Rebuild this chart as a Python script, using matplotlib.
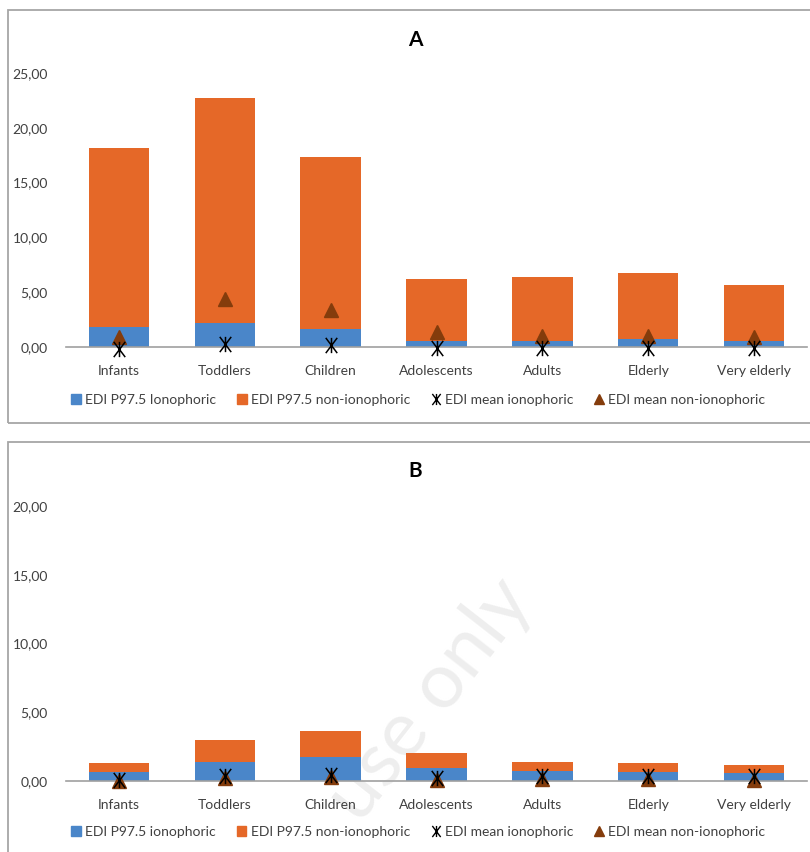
import matplotlib
matplotlib.use("Agg")
import matplotlib.pyplot as plt
import numpy as np
from matplotlib.patches import Rectangle, Patch
from matplotlib.lines import Line2D
from matplotlib.path import Path
from matplotlib.ticker import FuncFormatter

plt.rcParams['font.family'] = ['Lato', 'DejaVu Sans']

groups = ["Infants", "Toddlers", "Children", "Adolescents", "Adults", "Elderly", "Very elderly"]

# panel A
a_p975_iono = [1.80, 2.16, 1.67, 0.52, 0.55, 0.70, 0.55]
a_p975_total = [18.15, 22.75, 17.35, 6.20, 6.40, 6.75, 5.65]
a_mean_iono = [-0.15, 0.30, 0.15, -0.05, -0.10, -0.05, -0.05]
a_mean_non = [0.90, 4.40, 3.40, 1.40, 1.00, 1.00, 0.90]

# panel B
b_p975_iono = [0.63, 1.38, 1.70, 0.95, 0.71, 0.63, 0.54]
b_p975_total = [1.31, 2.96, 3.62, 1.99, 1.38, 1.31, 1.12]
b_mean_iono = [0.02, 0.31, 0.44, 0.22, 0.37, 0.32, 0.37]
b_mean_non = [0.00, 0.22, 0.26, 0.08, 0.10, 0.10, 0.08]

blue = "#4A86C9"
orange = "#E56828"
brown = "#843C0C"
txt = "#404040"

# excel-like "star" marker: X with a vertical bar through it
star = Path([(-0.75, -1), (0.75, 1), (-0.75, 1), (0.75, -1), (0, -1), (0, 1)],
            [Path.MOVETO, Path.LINETO] * 3)

W, H = 810, 852
fig = plt.figure(figsize=(W / 100, H / 100), dpi=100)


def px(x0, y0, x1, y1):
    # pixel box (top-left origin) -> figure fraction rect
    return [x0 / W, 1 - y1 / H, (x1 - x0) / W, (y1 - y0) / H]


def panel(rect, title, title_y, iono, total, m_iono, m_non, ymax, leg_y, lab0):
    ax = fig.add_axes(rect)
    ax.patch.set_alpha(0)
    x = np.arange(len(groups))
    non = np.array(total) - np.array(iono)
    ax.bar(x, iono, width=0.57, color=blue, zorder=2)
    ax.bar(x, non, bottom=iono, width=0.57, color=orange, zorder=2)
    ax.plot(x, m_non, linestyle="none", marker="^", markersize=10,
            color=brown, zorder=4, clip_on=False)
    ax.plot(x, m_iono, linestyle="none", marker=star, markersize=11,
            markeredgewidth=1.1, color="black", markerfacecolor="none",
            zorder=5, clip_on=False)
    ax.set_xlim(-0.5, len(groups) - 0.5)
    ax.set_ylim(0, ymax)
    ax.set_yticks(np.arange(0, ymax + 0.1, 5))
    ax.yaxis.set_major_formatter(FuncFormatter(lambda v, p: f"{v:.2f}".replace(".", ",")))
    ax.set_xticks(x)
    ax.set_xticklabels(groups)
    ax.tick_params(axis="both", length=0, labelsize=10, labelcolor=txt)
    ax.tick_params(axis="x", pad=13)
    ax.tick_params(axis="y", pad=13)
    for s in ["top", "right", "left"]:
        ax.spines[s].set_visible(False)
    ax.spines["bottom"].set_color("#A0A0A0")
    ax.spines["bottom"].set_linewidth(1.2)
    ax.spines["bottom"].set_zorder(3)
    fig.text(415 / W, 1 - title_y / H, title, ha="center", va="center",
             fontsize=15, fontweight="bold", color="black")
    handles = [Patch(color=blue), Patch(color=orange),
               Line2D([], [], linestyle="none", marker=star, markersize=8,
                      markeredgewidth=1.0, color="black", markerfacecolor="none"),
               Line2D([], [], linestyle="none", marker="^", markersize=7, color=brown)]
    labels = [lab0, "EDI P97.5 non-ionophoric",
              "EDI mean ionophoric", "EDI mean non-ionophoric"]
    fig.legend(handles, labels, loc="center", bbox_to_anchor=(418 / W, 1 - leg_y / H),
               ncol=4, frameon=False, fontsize=10, handlelength=0.7, handleheight=0.7,
               handletextpad=0.3, columnspacing=1.5, labelcolor=txt)
    return ax


panel(px(66, 73, 807, 347), "A", 40, a_p975_iono, a_p975_total, a_mean_iono, a_mean_non,
      25, 400, "EDI P97.5 Ionophoric")
panel(px(66, 506, 807, 780.7), "B", 471, b_p975_iono, b_p975_total, b_mean_iono, b_mean_non,
      20, 832, "EDI P97.5 ionophoric")

# panel frames
fig.patches.append(Rectangle((8 / W, 1 - 423 / H), 1.0, 413 / H, transform=fig.transFigure,
                             fill=False, edgecolor="#A6A6A6", linewidth=1.3))
fig.patches.append(Rectangle((8 / W, -0.05), 1.0, (1 - 442 / H) + 0.05, transform=fig.transFigure,
                             fill=False, edgecolor="#A6A6A6", linewidth=1.3))

# faint watermark
fig.text(430 / W, 1 - 700 / H, "use only", rotation=52, ha="center", va="center",
         fontsize=56, color="#EEEEEE", zorder=-1)

fig.savefig("out.png", dpi=100)
